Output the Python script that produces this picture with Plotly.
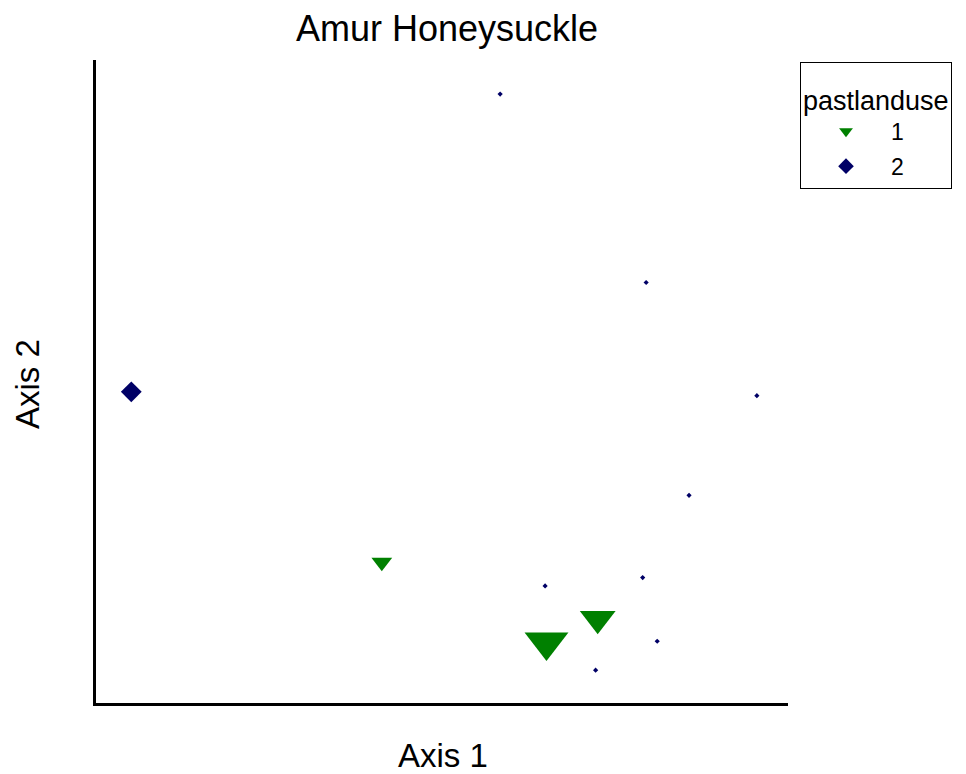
import plotly.graph_objects as go

# ---- data (axis units 0..100) ----
group1_name = "1"
group1_x = [41.3, 72.5, 65.1]
group1_y = [21.9, 13.1, 9.5]
group1_val = [18, 31, 38]

group2_name = "2"
group2_x = [58.4, 79.5, 95.5, 85.7, 79.0, 64.9, 81.1, 72.2, 5.1]
group2_y = [94.7, 65.4, 47.8, 32.3, 19.5, 18.2, 9.6, 5.1, 48.4]
group2_val = [4, 4, 4, 4, 4, 4, 4, 4, 16]

title_text = "Amur Honeysuckle"
xlabel = "Axis 1"
ylabel = "Axis 2"
legend_title = "pastlanduse"

FONT = "Liberation Sans, Arial, sans-serif"
GREEN = "#008000"
NAVY = "#000066"

fig = go.Figure()
fig.add_trace(go.Scatter(
    x=group1_x, y=group1_y, mode="markers", name=group1_name,
    legendgroup="g1",
    marker=dict(symbol="triangle-down", size=group1_val, color=GREEN,
                opacity=1, line=dict(width=0)),
    cliponaxis=False,
))
fig.add_trace(go.Scatter(
    x=group2_x, y=group2_y, mode="markers", name=group2_name,
    legendgroup="g2",
    marker=dict(symbol="diamond", size=group2_val, color=NAVY,
                opacity=1, line=dict(width=0)),
    cliponaxis=False,
))

W, H = 966, 774
L, R, T, B = 96, 966 - 788, 60, 774 - 703
pw, ph = W - L - R, H - T - B

axis_common = dict(
    showline=True, linecolor="black", linewidth=3, mirror=False,
    showgrid=False, zeroline=False, showticklabels=False, ticks="",
    fixedrange=True,
)

fig.update_layout(
    width=W, height=H,
    margin=dict(l=L, r=R, t=T, b=B, pad=0, autoexpand=False),
    paper_bgcolor="white", plot_bgcolor="white",
    font=dict(family=FONT, color="black"),
    title=dict(text=title_text, font=dict(size=36, family=FONT, color="black"),
               xref="container", x=447 / W, xanchor="center",
               yref="container", y=1 - 28 / H, yanchor="middle"),
    xaxis=dict(range=[0, 100], **axis_common),
    yaxis=dict(range=[0, 100], **axis_common),
    showlegend=True,
    legend=dict(
        title=dict(text="<span style='font-size:27px'>" + legend_title + "</span>",
                   font=dict(size=36, family=FONT), side="top"),
        font=dict(size=23, family=FONT),
        x=(800 - L) / pw, xanchor="left",
        y=(H - B - 62) / ph, yanchor="top",
        bordercolor="black", borderwidth=1, bgcolor="white",
        itemwidth=80, tracegroupgap=2, itemsizing="constant",
    ),
    annotations=[
        dict(text=xlabel, xref="paper", yref="paper", x=(442.5 - L) / pw,
             y=(H - B - 755) / ph, xanchor="center", yanchor="middle",
             showarrow=False, font=dict(size=33, family=FONT)),
        dict(text=ylabel, xref="paper", yref="paper", x=(27 - L) / pw,
             y=(H - B - 384) / ph, xanchor="center", yanchor="middle",
             showarrow=False, textangle=-90, font=dict(size=33, family=FONT)),
    ],
)

fig.write_html("out.html", config={"displayModeBar": False},
               post_script="document.body.style.margin='0';")
